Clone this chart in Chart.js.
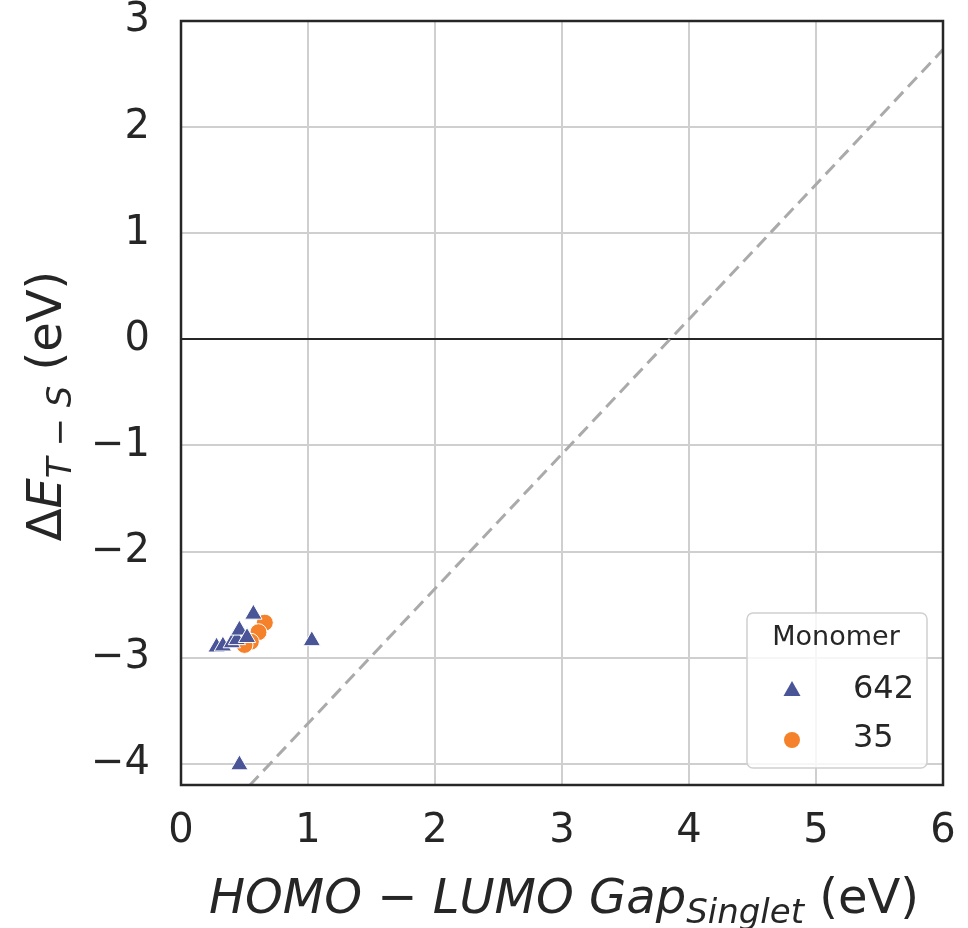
<!DOCTYPE html>
<html>
<head>
<meta charset="utf-8">
<script src="https://cdn.jsdelivr.net/npm/chart.js@4.4.1/dist/chart.umd.min.js"></script>
<style>
  html, body { margin: 0; padding: 0; background: #fff; }
  #wrap { width: 968px; height: 928px; }
</style>
</head>
<body>
<div id="wrap"><canvas id="chart"></canvas></div>
<script>
// data
const mono642X = [0.28, 0.33, 0.40, 0.44, 0.46, 0.52, 0.57, 1.03, 0.46];
const mono642Y = [-2.90, -2.89, -2.86, -2.83, -2.74, -2.81, -2.59, -2.84, -4.01];
const mono35X = [0.66, 0.61, 0.55, 0.50];
const mono35Y = [-2.67, -2.76, -2.85, -2.88];
// dashed reference line (two ends)
const fitX = [0, 6];
const fitY = [-4.89, 2.73];

const xTicks = [0, 1, 2, 3, 4, 5, 6];
const yTicks = [-4, -3, -2, -1, 0, 1, 2, 3];

const blue = '#4a5597';
const orange = '#f5822a';
const ink = '#262626';

function pts(xs, ys) {
  return xs.map((x, i) => ({ x: x, y: ys[i] }));
}
function fmt(v) {
  return String(v).replace('-', '\u2212');
}
// keep tick label overhang from moving the plot box
function noPad(s) {
  s.paddingTop = 0; s.paddingBottom = 0; s.paddingLeft = 0; s.paddingRight = 0;
}

// axis labels with subscripts + legend box
const decorations = {
  id: 'decorations',
  afterDraw(chart) {
    const ctx = chart.ctx;
    const area = chart.chartArea;
    ctx.save();
    ctx.fillStyle = ink;
    ctx.textBaseline = 'alphabetic';
    ctx.textAlign = 'left';

    // x label
    const xParts = [
      { t: 'HOMO \u2212 LUMO Gap', f: 'italic 48px "DejaVu Sans"', dy: 0 },
      { t: 'Singlet', f: 'italic 34px "DejaVu Sans"', dy: 10 },
      { t: ' (eV)', f: '48px "DejaVu Sans"', dy: 0 }
    ];
    let w = 0;
    xParts.forEach(p => { ctx.font = p.f; w += ctx.measureText(p.t).width; });
    let x = (area.left + area.right) / 2 - w / 2 + 2;
    xParts.forEach(p => {
      ctx.font = p.f;
      ctx.fillText(p.t, x, 913 + p.dy);
      x += ctx.measureText(p.t).width;
    });

    // y label
    const yParts = [
      { t: '\u0394', f: '48px "DejaVu Sans"', dy: 0 },
      { t: 'E', f: 'italic 48px "DejaVu Sans"', dy: 0 },
      { t: 'T \u2212 S', f: 'italic 34px "DejaVu Sans"', dy: 10 },
      { t: ' (eV)', f: '48px "DejaVu Sans"', dy: 0 }
    ];
    w = 0;
    yParts.forEach(p => { ctx.font = p.f; w += ctx.measureText(p.t).width; });
    ctx.translate(61, (area.top + area.bottom) / 2 + 3);
    ctx.rotate(-Math.PI / 2);
    x = -w / 2;
    yParts.forEach(p => {
      ctx.font = p.f;
      ctx.fillText(p.t, x, p.dy);
      x += ctx.measureText(p.t).width;
    });
    ctx.restore();

    // legend
    ctx.save();
    const bx = 747, by = 613, bw = 180, bh = 155, r = 6;
    ctx.beginPath();
    ctx.roundRect(bx, by, bw, bh, r);
    ctx.fillStyle = 'rgba(255,255,255,0.8)';
    ctx.fill();
    ctx.strokeStyle = '#d0d0d0';
    ctx.lineWidth = 1.5;
    ctx.stroke();
    ctx.fillStyle = ink;
    ctx.textAlign = 'center';
    ctx.textBaseline = 'middle';
    ctx.font = '27px "DejaVu Sans"';
    ctx.fillText('Monomer', 836, 638);
    ctx.textAlign = 'left';
    ctx.font = '32px "DejaVu Sans"';
    ctx.fillText('642', 853, 690);
    ctx.fillText('35', 853, 739);
    // markers
    ctx.fillStyle = blue;
    ctx.beginPath();
    ctx.moveTo(792, 681);
    ctx.lineTo(800.5, 696);
    ctx.lineTo(783.5, 696);
    ctx.closePath();
    ctx.fill();
    ctx.fillStyle = orange;
    ctx.beginPath();
    ctx.arc(792, 740, 8, 0, Math.PI * 2);
    ctx.fill();
    ctx.restore();

    // frame
    ctx.save();
    ctx.strokeStyle = ink;
    ctx.lineWidth = 2.5;
    ctx.strokeRect(area.left, area.top, area.right - area.left, area.bottom - area.top);
    ctx.restore();
  }
};

const ctx = document.getElementById('chart').getContext('2d');
new Chart(ctx, {
  type: 'scatter',
  data: {
    datasets: [
      {
        label: '642',
        data: pts(mono642X, mono642Y),
        pointStyle: 'triangle',
        pointRadius: 10,
        backgroundColor: blue,
        borderColor: '#ffffff',
        borderWidth: 1,
        order: 1
      },
      {
        label: '35',
        data: pts(mono35X, mono35Y),
        pointStyle: 'circle',
        pointRadius: 8.5,
        backgroundColor: orange,
        borderColor: '#ffffff',
        borderWidth: 1,
        order: 2
      },
      {
        type: 'line',
        label: 'fit',
        data: pts(fitX, fitY),
        borderColor: '#aaaaaa',
        borderWidth: 3,
        borderDash: [13, 7],
        pointRadius: 0,
        fill: false,
        order: 3
      }
    ]
  },
  options: {
    responsive: true,
    maintainAspectRatio: false,
    animation: false,
    layout: { padding: { top: 21, right: 25, left: 0, bottom: 0 } },
    plugins: {
      legend: { display: false },
      tooltip: { enabled: false }
    },
    scales: {
      x: {
        type: 'linear',
        min: 0,
        max: 6,
        afterBuildTicks: s => { s.ticks = xTicks.map(v => ({ value: v })); },
        afterFit: s => { s.height = 143; noPad(s); },
        grid: { color: '#cfcfcf', lineWidth: 2, drawTicks: false },
        border: { display: false },
        ticks: {
          color: ink,
          padding: 23,
          font: { family: 'DejaVu Sans', size: 40 },
          callback: v => fmt(v)
        }
      },
      y: {
        type: 'linear',
        min: -4.2,
        max: 3,
        afterBuildTicks: s => { s.ticks = yTicks.map(v => ({ value: v })); },
        afterFit: s => { s.width = 181; noPad(s); },
        grid: {
          color: c => (c.tick && c.tick.value === 0) ? ink : '#cfcfcf',
          lineWidth: 2,
          drawTicks: false
        },
        border: { display: false },
        ticks: {
          color: ink,
          padding: 31,
          font: { family: 'DejaVu Sans', size: 40 },
          callback: v => fmt(v)
        }
      }
    }
  },
  plugins: [decorations]
});
</script>
</body>
</html>
